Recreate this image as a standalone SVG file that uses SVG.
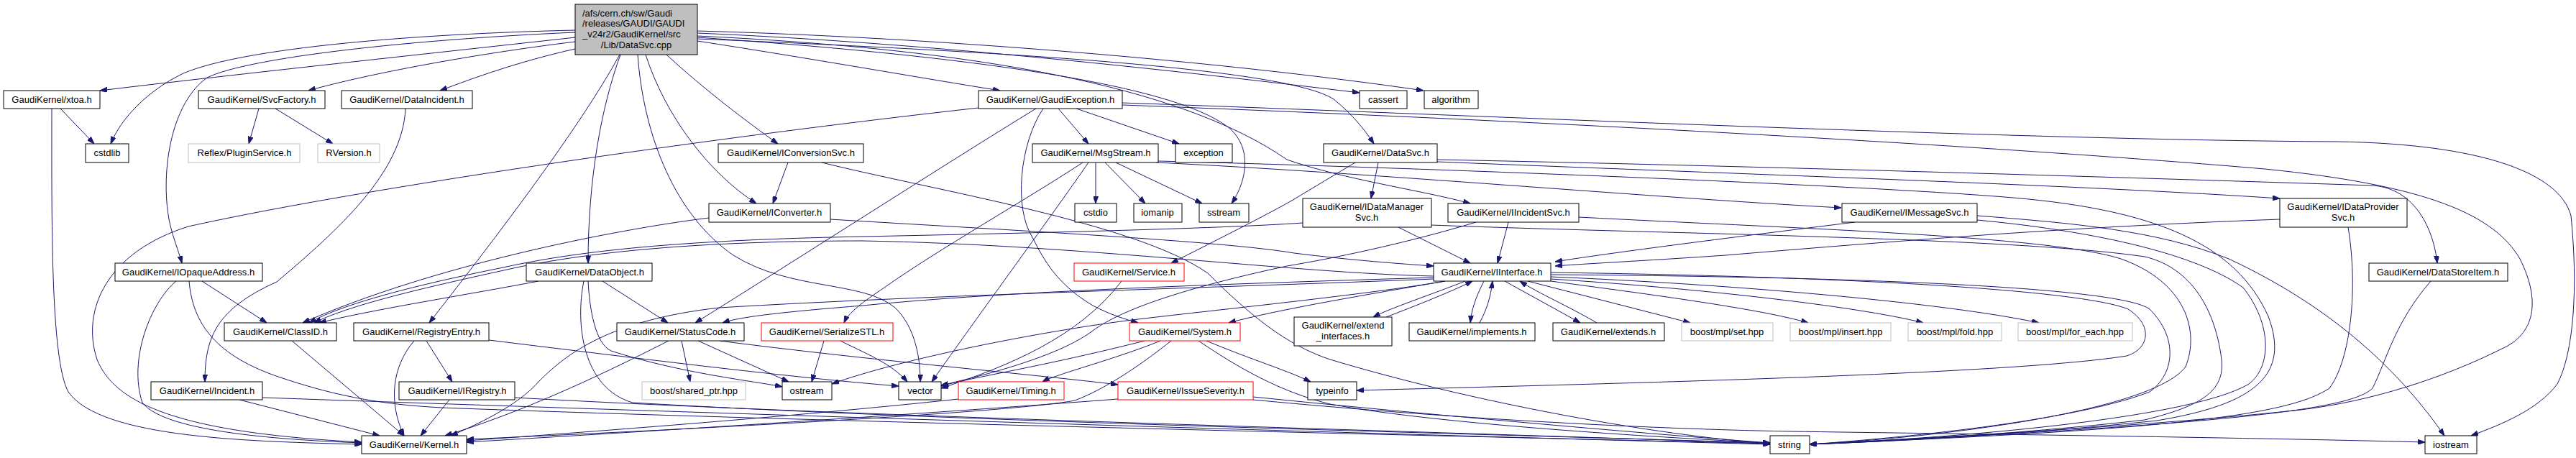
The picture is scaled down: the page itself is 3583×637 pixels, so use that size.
<svg xmlns="http://www.w3.org/2000/svg" width="3583" height="637" viewBox="0 0 3583 637">
<style>
.nd rect{fill:#fff;stroke:#000;stroke-width:1}
.nd.red rect{stroke:#ff0000}
.nd.gray rect{stroke:#bfbfbf}
.nd.main rect{fill:#bfbfbf}
text{font-family:"Liberation Sans",Arial,Helvetica,sans-serif;font-size:13px;fill:#000;text-anchor:middle}
text.l{text-anchor:start}
.edges path{fill:none;stroke:#191970;stroke-width:1;marker-end:url(#arr)}
</style>
<defs>
<marker id="arr" viewBox="0 0 10 7" refX="10" refY="3.5" markerWidth="10" markerHeight="7" markerUnits="userSpaceOnUse" orient="auto">
<path d="M0,0 L10,3.5 L0,7 z" fill="#191970" stroke="#191970" stroke-width="1"/>
</marker>
</defs>
<rect x="0" y="0" width="3583" height="637" fill="#fff"/>
<g class="edges" id="edges">
<!-- main -->
<path d="M800,52 C620,72 330,103 139,126"/>
<path d="M800,42 C580,47 340,66 255,102 C205,126 168,165 154,200"/>
<path d="M800,45 C570,55 345,80 288,108 C232,148 222,258 238,318 C244,340 250,354 253,366"/>
<path d="M800,58 C660,75 510,103 429,126"/>
<path d="M800,68 C720,86 660,108 612,126"/>
<path d="M862,76 C805,180 690,330 597,449"/>
<path d="M863,76 C836,150 818,250 818,366"/>
<path d="M887,76 C895,190 940,300 1020,355 C1100,405 1200,390 1245,428 C1274,456 1280,500 1280,531"/>
<path d="M898,76 C925,160 985,240 1052,283"/>
<path d="M927,76 C980,125 1040,170 1082,200"/>
<path d="M970,57 C1120,80 1290,110 1391,126"/>
<path d="M970,43 C1300,52 1700,85 1980,126"/>
<path d="M970,46 C1300,60 1650,100 1891,129"/>
<path d="M970,50 C1350,68 1640,118 1790,222 C1870,250 1980,265 2045,283"/>
<path d="M970,52 C1350,78 1640,118 1712,180 C1745,212 1730,258 1713,283"/>
<path d="M970,54 C1400,72 1790,95 1855,138 C1880,158 1898,180 1911,200"/>
<!-- xtoa -->
<path d="M84,151 L131,200"/>
<path d="M72,151 C72,300 70,500 95,545 C140,610 350,614 503,618"/>
<!-- SvcFactory -->
<path d="M360,151 L346,200"/>
<path d="M383,151 L463,200"/>
<!-- DataIncident -->
<path d="M564,151 C560,240 470,320 385,392 C300,430 285,470 285,531"/>
<!-- GaudiException -->
<path d="M1361,150 C1000,190 500,262 262,315 C150,350 112,430 135,500 C160,562 250,602 503,615"/>
<path d="M1441,151 C1320,225 1110,360 967,449"/>
<path d="M1451,151 C1418,200 1410,290 1436,330 C1452,362 1470,395 1520,425 C1545,438 1565,444 1583,449"/>
<path d="M1472,151 L1514,200"/>
<path d="M1497,151 L1640,200"/>
<path d="M1561,143 C2000,158 2800,195 3250,197 C3450,200 3560,240 3576,300 C3586,400 3580,490 3557,534 C3530,570 3480,590 3437,606"/>
<path d="M1561,146 C2200,170 2800,205 3150,235 C3380,258 3470,300 3505,360 C3535,420 3525,465 3480,485 C3400,525 3300,558 3200,570 C3000,592 2700,608 2517,618"/>
<!-- MsgStream -->
<path d="M1524,226 L1524,283"/>
<path d="M1537,226 L1593,283"/>
<path d="M1552,226 L1672,283"/>
<path d="M1514,226 C1470,290 1360,440 1296,531"/>
<path d="M1506,226 C1440,270 1300,350 1230,400 C1200,420 1180,435 1174,449"/>
<path d="M1608,226 C1900,240 2300,275 2561,289"/>
<path d="M1611,224 C2000,234 2600,258 2800,275 C3000,292 3110,340 3155,440 C3185,520 3140,562 3000,585 C2800,606 2600,615 2517,618"/>
<!-- IConversionSvc -->
<path d="M1096,226 L1075,283"/>
<path d="M1143,226 C1300,265 1580,310 1680,380 C1740,440 1790,480 1850,500 C2050,560 2300,605 2462,617"/>
<!-- IConverter -->
<path d="M986,303 C850,320 600,370 421,449"/>
<path d="M1155,305 C1400,320 1700,335 1800,352 C1880,362 1950,367 1994,370"/>
<!-- DataObject -->
<path d="M749,391 C650,410 520,430 444,449"/>
<path d="M838,391 L929,449"/>
<path d="M818,391 C820,430 828,478 850,488 C950,520 1050,530 1088,538"/>
<path d="M812,391 C800,450 810,540 880,560 C1300,585 2000,602 2462,616"/>
<!-- StatusCode -->
<path d="M930,474 C820,530 720,575 619,606"/>
<path d="M948,474 L960,531"/>
<path d="M971,474 L1097,531"/>
<path d="M1001,474 C1200,500 1450,522 1555,535"/>
<!-- SerializeSTL -->
<path d="M1146,474 L1129,531"/>
<path d="M1169,474 C1200,490 1240,505 1262,531"/>
<!-- RegistryEntry -->
<path d="M576,474 C545,510 540,560 562,606"/>
<path d="M593,474 L629,531"/>
<path d="M680,473 C900,500 1100,525 1250,537"/>
<!-- IRegistry -->
<path d="M625,556 L585,606"/>
<path d="M716,553 C1200,580 2000,600 2462,617"/>
<!-- IOpaqueAddress -->
<path d="M281,391 L371,449"/>
<path d="M245,391 C210,420 178,500 198,560 C230,602 400,612 503,616"/>
<path d="M263,391 C268,450 300,495 390,525 C470,552 540,565 640,568 C1200,588 2000,606 2462,617"/>
<!-- ClassID -->
<path d="M406,474 L562,606"/>
<!-- Incident -->
<path d="M333,556 L528,606"/>
<path d="M365,553 C1200,582 2000,606 2462,618"/>
<!-- Service -->
<path d="M1560,391 C1500,470 1400,510 1309,540"/>
<!-- System -->
<path d="M1592,474 C1450,510 1350,525 1309,537"/>
<path d="M1614,474 C1550,500 1470,520 1450,531"/>
<path d="M1629,474 C1590,505 1540,540 1495,557 C1400,575 900,600 649,611"/>
<path d="M1667,474 C1720,510 1780,545 1850,562 C2000,590 2300,608 2462,616"/>
<path d="M1678,474 C1740,500 1790,515 1823,531"/>
<!-- Timing -->
<path d="M1333,555 C1100,580 800,602 649,613"/>
<!-- IssueSeverity -->
<path d="M1555,555 C1200,582 800,606 649,615"/>
<path d="M1743,552 C2000,578 2300,604 2462,616"/>
<path d="M1743,556 C2100,590 2380,598 2490,600 C2700,603 3100,608 3373,615"/>
<!-- IInterface -->
<path d="M1994,384 C1800,380 1500,340 1200,335 C1000,335 830,347 705,375 C610,396 490,422 437,449"/>
<path d="M1994,388 C1700,400 1300,410 1000,428 C850,445 790,490 750,530 C720,565 660,592 627,606"/>
<path d="M1994,386 C1700,395 1400,405 1200,425 C1100,433 1030,440 1005,449"/>
<path d="M2010,391 C1900,410 1780,430 1709,449"/>
<path d="M2010,391 C1900,410 1700,430 1583,444 C1450,460 1250,500 1157,534"/>
<path d="M2038,391 C1990,410 1935,428 1910,441"/>
<path d="M2064,391 C2052,415 2047,430 2045,449"/>
<path d="M2093,391 L2198,449"/>
<path d="M2125,391 L2351,449"/>
<path d="M2157,391 C2300,410 2450,430 2515,449"/>
<path d="M2157,388 C2350,400 2580,425 2675,449"/>
<path d="M2157,385 C2400,395 2700,420 2836,449"/>
<path d="M2157,379 C2600,385 2900,405 2960,430 C2995,452 2990,485 2958,495 C2800,520 2300,532 1887,543"/>
<path d="M2157,382 C2600,385 2950,400 2990,430 C3030,470 3025,520 2990,545 C2900,580 2700,605 2517,618"/>
<!-- back edges to IInterface -->
<path d="M1928,441 C1970,425 2020,405 2048,391"/>
<path d="M2058,449 C2068,430 2073,415 2076,391"/>
<path d="M2221,449 C2180,425 2140,408 2114,391"/>
<!-- DataSvc -->
<path d="M1917,226 L1907,276"/>
<path d="M1885,226 C1860,241 1825,262 1800,277 C1770,295 1680,340 1629,366"/>
<path d="M1999,222 C2400,230 2900,245 3300,258 C3360,262 3385,320 3390,366"/>
<path d="M1999,225 C2500,245 2900,258 3171,276"/>
<!-- IDataManagerSvc -->
<path d="M1945,316 L2045,366"/>
<path d="M1812,310 C1700,318 1400,325 1200,329 C1000,333 830,343 700,372 C600,392 480,420 430,449"/>
<path d="M1991,313 C2300,325 2800,330 2983,357 C3040,370 3080,420 3090,500 C3095,545 3060,565 2983,584 C2800,605 2600,615 2517,618"/>
<!-- IIncidentSvc -->
<path d="M2098,309 L2083,366"/>
<path d="M2053,309 C1950,340 1850,360 1790,370 C1650,400 1560,430 1520,460 C1480,490 1400,515 1309,536"/>
<path d="M2196,302 C2500,318 2850,328 2950,360 C3040,392 3060,460 3040,510 C3000,565 2750,605 2517,618"/>
<!-- IMessageSvc -->
<path d="M2580,309 C2450,325 2250,350 2163,364"/>
<path d="M2750,300 C2880,310 3000,320 3100,360 C3250,430 3340,520 3400,606"/>
<path d="M2750,306 C2900,320 3050,350 3120,400 C3160,450 3160,510 3128,534 C3060,575 2800,605 2517,618"/>
<!-- IDataProviderSvc -->
<path d="M3171,305 C2900,315 2700,330 2400,355 C2300,362 2200,367 2163,370"/>
<path d="M3266,316 C3280,400 3270,500 3240,540 C3180,580 3000,598 2517,618"/>
<!-- DataStoreItem -->
<path d="M3381,391 C3330,450 3320,500 3300,540 C3270,570 3100,590 2517,618"/>
</g>

<g id="n_main" class="nd main"><rect x="800" y="6" width="170" height="70"/><text class="l" x="810" y="23">/afs/cern.ch/sw/Gaudi</text><text class="l" x="810" y="37">/releases/GAUDI/GAUDI</text><text class="l" x="810" y="52">_v24r2/GaudiKernel/src</text><text x="885" y="67">/Lib/DataSvc.cpp</text></g>

<g id="n_xtoa" class="nd"><rect x="5" y="126" width="134" height="25"/><text x="72" y="143">GaudiKernel/xtoa.h</text></g>
<g id="n_svcfactory" class="nd"><rect x="276" y="126" width="176" height="25"/><text x="364" y="143">GaudiKernel/SvcFactory.h</text></g>
<g id="n_dataincident" class="nd"><rect x="475" y="126" width="182" height="25"/><text x="566" y="143">GaudiKernel/DataIncident.h</text></g>
<g id="n_gaudiexception" class="nd"><rect x="1361" y="126" width="200" height="25"/><text x="1461" y="143">GaudiKernel/GaudiException.h</text></g>
<g id="n_cassert" class="nd"><rect x="1891" y="126" width="66" height="25"/><text x="1924" y="143">cassert</text></g>
<g id="n_algorithm" class="nd"><rect x="1981" y="126" width="75" height="25"/><text x="2018" y="143">algorithm</text></g>

<g id="n_cstdlib" class="nd"><rect x="119" y="200" width="60" height="26"/><text x="149" y="217">cstdlib</text></g>
<g id="n_pluginservice" class="nd gray"><rect x="262" y="200" width="155" height="26"/><text x="340" y="217">Reflex/PluginService.h</text></g>
<g id="n_rversion" class="nd gray"><rect x="442" y="200" width="86" height="26"/><text x="485" y="217">RVersion.h</text></g>
<g id="n_iconversionsvc" class="nd"><rect x="999" y="200" width="202" height="26"/><text x="1100" y="217">GaudiKernel/IConversionSvc.h</text></g>
<g id="n_msgstream" class="nd"><rect x="1436" y="200" width="175" height="26"/><text x="1524" y="217">GaudiKernel/MsgStream.h</text></g>
<g id="n_exception" class="nd"><rect x="1635" y="200" width="79" height="26"/><text x="1674" y="217">exception</text></g>
<g id="n_datasvc" class="nd"><rect x="1841" y="200" width="158" height="26"/><text x="1920" y="217">GaudiKernel/DataSvc.h</text></g>

<g id="n_iconverter" class="nd"><rect x="986" y="283" width="169" height="26"/><text x="1070" y="300">GaudiKernel/IConverter.h</text></g>
<g id="n_cstdio" class="nd"><rect x="1495" y="283" width="58" height="26"/><text x="1524" y="300">cstdio</text></g>
<g id="n_iomanip" class="nd"><rect x="1577" y="283" width="67" height="26"/><text x="1610" y="300">iomanip</text></g>
<g id="n_sstream" class="nd"><rect x="1668" y="283" width="69" height="26"/><text x="1702" y="300">sstream</text></g>
<g id="n_idatamanagersvc" class="nd"><rect x="1812" y="276" width="179" height="40"/><text x="1901" y="292">GaudiKernel/IDataManager</text><text x="1901" y="307">Svc.h</text></g>
<g id="n_iincidentsvc" class="nd"><rect x="2014" y="283" width="182" height="26"/><text x="2105" y="300">GaudiKernel/IIncidentSvc.h</text></g>
<g id="n_imessagesvc" class="nd"><rect x="2562" y="283" width="188" height="26"/><text x="2656" y="300">GaudiKernel/IMessageSvc.h</text></g>
<g id="n_idataprovidersvc" class="nd"><rect x="3171" y="276" width="177" height="40"/><text x="3259" y="292">GaudiKernel/IDataProvider</text><text x="3259" y="307">Svc.h</text></g>

<g id="n_iopaqueaddress" class="nd"><rect x="160" y="366" width="205" height="25"/><text x="262" y="383">GaudiKernel/IOpaqueAddress.h</text></g>
<g id="n_dataobject" class="nd"><rect x="732" y="366" width="175" height="25"/><text x="820" y="383">GaudiKernel/DataObject.h</text></g>
<g id="n_service" class="nd red"><rect x="1494" y="366" width="153" height="25"/><text x="1570" y="383">GaudiKernel/Service.h</text></g>
<g id="n_iinterface" class="nd"><rect x="1994" y="366" width="163" height="25"/><text x="2075" y="383">GaudiKernel/IInterface.h</text></g>
<g id="n_datastoreitem" class="nd"><rect x="3295" y="366" width="193" height="25"/><text x="3391" y="383">GaudiKernel/DataStoreItem.h</text></g>

<g id="n_classid" class="nd"><rect x="312" y="449" width="156" height="25"/><text x="390" y="466">GaudiKernel/ClassID.h</text></g>
<g id="n_registryentry" class="nd"><rect x="492" y="449" width="188" height="25"/><text x="586" y="466">GaudiKernel/RegistryEntry.h</text></g>
<g id="n_statuscode" class="nd"><rect x="858" y="449" width="177" height="25"/><text x="946" y="466">GaudiKernel/StatusCode.h</text></g>
<g id="n_serializestl" class="nd red"><rect x="1059" y="449" width="183" height="25"/><text x="1150" y="466">GaudiKernel/SerializeSTL.h</text></g>
<g id="n_system" class="nd red"><rect x="1571" y="449" width="154" height="25"/><text x="1648" y="466">GaudiKernel/System.h</text></g>
<g id="n_extendinterfaces" class="nd"><rect x="1800" y="441" width="136" height="40"/><text x="1868" y="457">GaudiKernel/extend</text><text x="1868" y="472">_interfaces.h</text></g>
<g id="n_implements" class="nd"><rect x="1960" y="449" width="175" height="25"/><text x="2047" y="466">GaudiKernel/implements.h</text></g>
<g id="n_extends" class="nd"><rect x="2160" y="449" width="155" height="25"/><text x="2237" y="466">GaudiKernel/extends.h</text></g>
<g id="n_mplset" class="nd gray"><rect x="2339" y="449" width="127" height="25"/><text x="2402" y="466">boost/mpl/set.hpp</text></g>
<g id="n_mplinsert" class="nd gray"><rect x="2490" y="449" width="140" height="25"/><text x="2560" y="466">boost/mpl/insert.hpp</text></g>
<g id="n_mplfold" class="nd gray"><rect x="2654" y="449" width="130" height="25"/><text x="2719" y="466">boost/mpl/fold.hpp</text></g>
<g id="n_mplforeach" class="nd gray"><rect x="2807" y="449" width="159" height="25"/><text x="2886" y="466">boost/mpl/for_each.hpp</text></g>

<g id="n_incident" class="nd"><rect x="210" y="531" width="155" height="25"/><text x="288" y="548">GaudiKernel/Incident.h</text></g>
<g id="n_iregistry" class="nd"><rect x="555" y="531" width="161" height="25"/><text x="636" y="548">GaudiKernel/IRegistry.h</text></g>
<g id="n_sharedptr" class="nd gray"><rect x="893" y="531" width="144" height="25"/><text x="965" y="548">boost/shared_ptr.hpp</text></g>
<g id="n_ostream" class="nd"><rect x="1088" y="531" width="69" height="25"/><text x="1122" y="548">ostream</text></g>
<g id="n_vector" class="nd"><rect x="1250" y="531" width="59" height="25"/><text x="1280" y="548">vector</text></g>
<g id="n_timing" class="nd red"><rect x="1333" y="531" width="147" height="25"/><text x="1406" y="548">GaudiKernel/Timing.h</text></g>
<g id="n_issueseverity" class="nd red"><rect x="1555" y="531" width="188" height="25"/><text x="1649" y="548">GaudiKernel/IssueSeverity.h</text></g>
<g id="n_typeinfo" class="nd"><rect x="1819" y="531" width="68" height="25"/><text x="1853" y="548">typeinfo</text></g>

<g id="n_kernel" class="nd"><rect x="503" y="606" width="146" height="25"/><text x="576" y="623">GaudiKernel/Kernel.h</text></g>
<g id="n_string" class="nd"><rect x="2462" y="606" width="55" height="25"/><text x="2489" y="623">string</text></g>
<g id="n_iostream" class="nd"><rect x="3373" y="606" width="72" height="25"/><text x="3409" y="623">iostream</text></g>
</svg>
